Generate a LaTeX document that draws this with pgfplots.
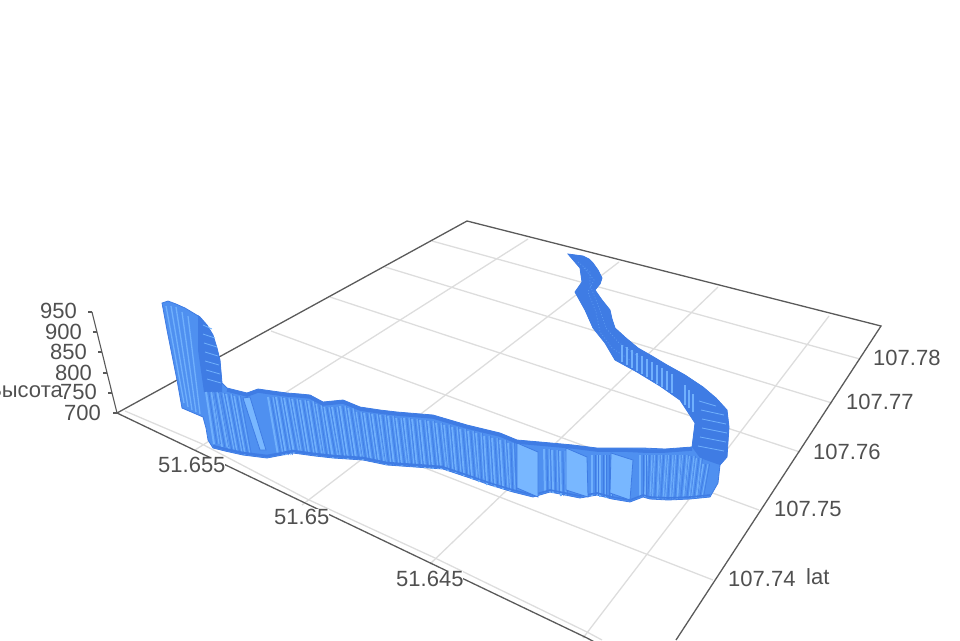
\documentclass[border=0pt]{standalone}
\usepackage{pgfplots}
\usepackage{pgfplotstable}
\usepackage{fontspec}
\setmainfont{Liberation Sans}
\pgfplotsset{compat=1.18}
\definecolor{base}{HTML}{4F90F0}
\definecolor{lite}{HTML}{70B0FC}
\definecolor{face}{HTML}{78B7FF}
\definecolor{deep}{HTML}{3F7CE4}
\definecolor{gridc}{HTML}{DDDDDD}
\definecolor{axisc}{HTML}{5A5A5A}
\definecolor{txt}{HTML}{505050}
\tikzset{lbl/.style={font=\fontsize{22}{24}\selectfont,text=txt,inner sep=0pt}}
\pgfplotstableread{
tx ty bx by
206 392 214 444
212 392 222 447
218 393 229 450
226 394 237 453
234 396 245 455
268 397 278 455
276 397 286 455
284 398 294 453
292 399 301 453
300 400 309 454
308 401 317 456
316 404 324 456
324 407 333 458
332 407 340 458
340 406 348 459
348 408 356 459
356 412 363 460
364 413 371 461
372 414 379 463
380 415 386 465
388 416 394 465
396 418 402 466
404 418 409 466
412 419 417 467
420 420 425 468
428 421 433 469
436 423 441 469
444 425 448 471
452 427 456 473
460 429 464 476
468 431 472 479
476 433 479 482
484 436 487 485
492 438 495 487
500 440 503 489
508 443 510 491
544 449 545 492
552 450 553 493
560 451 561 496
592 455 592 496
600 455 600 497
606 455 606 498
640 455 640 497
647 455 645 497
654 455 652 498
661 455 658 499
668 455 665 499
675 455 672 499
682 455 678 498
689 456 684 498
696 458 691 498
703 464 697 497
}\stripes
\pgfplotstableread{
tx ty bx by
166 306 184 403
171 306 188 407
176 307 192 410
182 312 196 412
188 316 200 414
622 345 622 362
627 347 627 365
632 350 632 368
637 353 637 371
642 356 642 374
647 359 647 377
652 362 652 380
657 365 657 384
662 368 662 387
667 371 667 390
672 374 672 393
685 385 685 405
689 390 689 408
693 394 693 412
}\upperstripes
\pgfplotstableread{
tx ty bx by
203 325 212 329
203 334 215 338
204 343 217 347
205 352 218 356
205 361 219 365
206 370 220 374
207 379 221 383
699 401 716 406
701 410 724 415
702 419 726 424
702 428 727 433
700 437 726 442
698 446 724 451
}\dashes
\begin{document}
\begin{tikzpicture}
\useasboundingbox (0,0) rectangle (960pt,640pt);
\begin{axis}[at={(0,0)},anchor=south west,scale only axis,width=960pt,height=640pt,
  xmin=0,xmax=960,ymin=0,ymax=640,y dir=reverse,hide axis,clip=true]
% grid lines, lat
\addplot[gridc,line width=1.3pt] coordinates {(125,411)(200,443)(307,499)(435,558)(587,632)(602,640)};
\addplot[gridc,line width=1.3pt] coordinates {(186,375)(713,580)};
\addplot[gridc,line width=1.3pt] coordinates {(271,331)(759,510)};
\addplot[gridc,line width=1.3pt] coordinates {(330,297)(800,452)};
\addplot[gridc,line width=1.3pt] coordinates {(385,267)(832,403)};
\addplot[gridc,line width=1.3pt] coordinates {(432,241)(860,359)};
% grid lines, lon
\addplot[gridc,line width=1.3pt] coordinates {(195,450)(528,239)};
\addplot[gridc,line width=1.3pt] coordinates {(302,505)(619,262)};
\addplot[gridc,line width=1.3pt] coordinates {(430,564)(718,287)};
\addplot[gridc,line width=1.3pt] coordinates {(583,638)(829,316)};
% box
\addplot[axisc,line width=1.3pt] coordinates {(117,413)(467,221)(881,326)(676,640)};
\addplot[axisc,line width=1.3pt] coordinates {(117,413)(587,638)(600,645)};
\addplot[axisc,line width=1.1pt] coordinates {(117,413)(92,312)};
\addplot[axisc,line width=1.1pt] coordinates {(92,312)(88,312)};
\addplot[axisc,line width=1.1pt] coordinates {(97,332)(93,332)};
\addplot[axisc,line width=1.1pt] coordinates {(102,352)(98,352)};
\addplot[axisc,line width=1.1pt] coordinates {(107,373)(103,373)};
\addplot[axisc,line width=1.1pt] coordinates {(112,393)(108,393)};
\addplot[axisc,line width=1.1pt] coordinates {(117,413)(113,413)};
% ribbon body
\addplot[fill=base,draw=deep,line width=0.8pt] coordinates {
(568,254)(583,256)(589,259)(593,263)(598,270)(602,278)(600,284)(595,290)(602,300)(610,310)(612,319)(615,328)(626,338)(638,348)(652,356)(667,365)(685,375)(703,387)(716,398)(727,410)(729,427)(727,457)(720,465)(718,483)(710,497)(690,499)(668,500)(650,499)(643,497)(630,502)(612,499)(597,495)(580,498)(565,495)(550,492)(533,497)(513,492)(490,485)(467,477)(443,469)(415,467)(387,465)(363,460)(333,458)(315,456)(293,453)(267,458)(243,455)(225,451)(213,448)(208,440)(206,428)(203,417)(182,408)(177,380)(172,355)(167,330)(162,303)(168,301)(176,304)(185,308)(200,317)(207,325)(213,335)(217,348)(220,360)(222,383)(227,388)(247,393)(258,389)(272,391)(287,393)(300,394)(310,395)(323,402)(343,400)(360,407)(380,410)(397,412)(433,415)(450,420)(467,425)(500,433)(517,440)(540,442)(573,445)(597,448)(623,448)(643,448)(665,449)(692,447)(695,423)(680,400)(660,386)(637,372)(615,360)(605,343)(593,328)(585,310)(575,292)(582,282)(580,268)} -- cycle;
% darker upper ribbon and bend
\addplot[fill=deep,draw=none] coordinates {
(568,254)(583,256)(589,259)(593,263)(598,270)(602,278)(600,284)(595,290)(602,300)(610,310)(612,319)(615,328)(626,338)(638,348)(652,356)(667,365)(685,375)(703,387)(716,398)(727,410)(729,427)(727,457)(720,465)(700,458)(692,447)(695,423)(680,400)(660,386)(637,372)(615,360)(605,343)(593,328)(585,310)(575,292)(582,282)(580,268)} -- cycle;
\addplot[fill=deep,draw=none] coordinates {
(198,315)(207,325)(213,335)(217,348)(220,360)(222,383)(222,392)(204,392)(198,350)} -- cycle;
% stripes
\addplot[quiver={u=\thisrow{bx}-\thisrow{tx},v=\thisrow{by}-\thisrow{ty}},lite,line width=2pt] table[x=tx,y=ty] {\stripes};
\addplot[quiver={u=\thisrow{bx}-\thisrow{tx},v=\thisrow{by}-\thisrow{ty}},lite,line width=1pt] table[x expr=\thisrow{tx}+5,y=ty] {\stripes};
\addplot[quiver={u=\thisrow{bx}-\thisrow{tx},v=\thisrow{by}-\thisrow{ty}},deep,line width=0.6pt] table[x expr=\thisrow{tx}+2.8,y=ty] {\stripes};
\addplot[quiver={u=\thisrow{bx}-\thisrow{tx},v=\thisrow{by}-\thisrow{ty}},deep,line width=0.5pt] table[x expr=\thisrow{tx}+6.6,y=ty] {\stripes};
\addplot[quiver={u=\thisrow{bx}-\thisrow{tx},v=\thisrow{by}-\thisrow{ty}},lite,line width=1.3pt] table[x=tx,y=ty] {\upperstripes};
\addplot[quiver={u=\thisrow{bx}-\thisrow{tx},v=\thisrow{by}-\thisrow{ty}},lite,line width=0.8pt] table[x=tx,y=ty] {\dashes};
% fine texture on the dark parts
\addplot[lite,opacity=0.55,line width=0.7pt,dash pattern=on 1pt off 2pt] coordinates {(578,262)(590,272)(590,285)(600,310)(606,328)(618,342)(640,358)};
\addplot[lite,opacity=0.55,line width=0.7pt,dash pattern=on 1pt off 2pt] coordinates {(584,268)(594,280)(588,292)(596,312)(600,332)(612,348)(630,360)};
% top and bottom bands
\addplot[deep,line width=3.5pt] coordinates {(227,390)(247,395)(258,391)(272,393)(287,395)(300,396)(310,397)(323,404)(343,402)(360,409)(380,412)(397,414)(433,417)(450,422)(467,427)(500,435)(517,442)(540,444)(573,447)(597,450)(623,450)(643,451)(665,451)(692,449)};
\addplot[deep,line width=2.5pt] coordinates {(213,446)(225,449)(243,453)(267,456)(293,451)(315,454)(333,456)(363,458)(387,463)(415,465)(443,467)};
\addplot[deep,line width=1.6pt] coordinates {(443,467)(467,475)(490,483)(513,490)(533,495)(550,490)(565,493)(580,496)(597,493)(612,497)(630,500)(643,495)(650,497)(668,498)(690,497)(710,495)};
% flat faces
\addplot[fill=face,draw=deep,line width=0.8pt] coordinates {(517,443)(538,452)(538,497)(517,488)} -- cycle;
\addplot[fill=face,draw=deep,line width=0.8pt] coordinates {(566,448)(587,457)(588,497)(566,490)} -- cycle;
\addplot[fill=face,draw=deep,line width=0.8pt] coordinates {(611,453)(633,460)(630,500)(610,493)} -- cycle;
\addplot[fill=face,draw=deep,line width=0.8pt] coordinates {(243,398)(250,397)(266,450)(260,450)} -- cycle;
% labels
\node[lbl,anchor=west,fill=white] at (axis cs:158,465) {51.655};
\node[lbl,anchor=west,fill=white] at (axis cs:274,517) {51.65};
\node[lbl,anchor=west,fill=white] at (axis cs:396,579) {51.645};
\node[lbl,anchor=west] at (axis cs:873,358) {107.78};
\node[lbl,anchor=west] at (axis cs:846,402) {107.77};
\node[lbl,anchor=west] at (axis cs:813,452) {107.76};
\node[lbl,anchor=west] at (axis cs:774,509) {107.75};
\node[lbl,anchor=west] at (axis cs:728,579) {107.74};
\node[lbl,anchor=west] at (axis cs:806,577) {lat};
\node[lbl,anchor=east] at (axis cs:77,311) {950};
\node[lbl,anchor=east] at (axis cs:82,332) {900};
\node[lbl,anchor=east] at (axis cs:87,352) {850};
\node[lbl,anchor=east] at (axis cs:92,373) {800};
\node[lbl,anchor=east] at (axis cs:97,392) {750};
\node[lbl,anchor=east] at (axis cs:101,413) {700};
\node[lbl,anchor=east] at (axis cs:63,390) {Высота};
\end{axis}
\end{tikzpicture}
\end{document}
